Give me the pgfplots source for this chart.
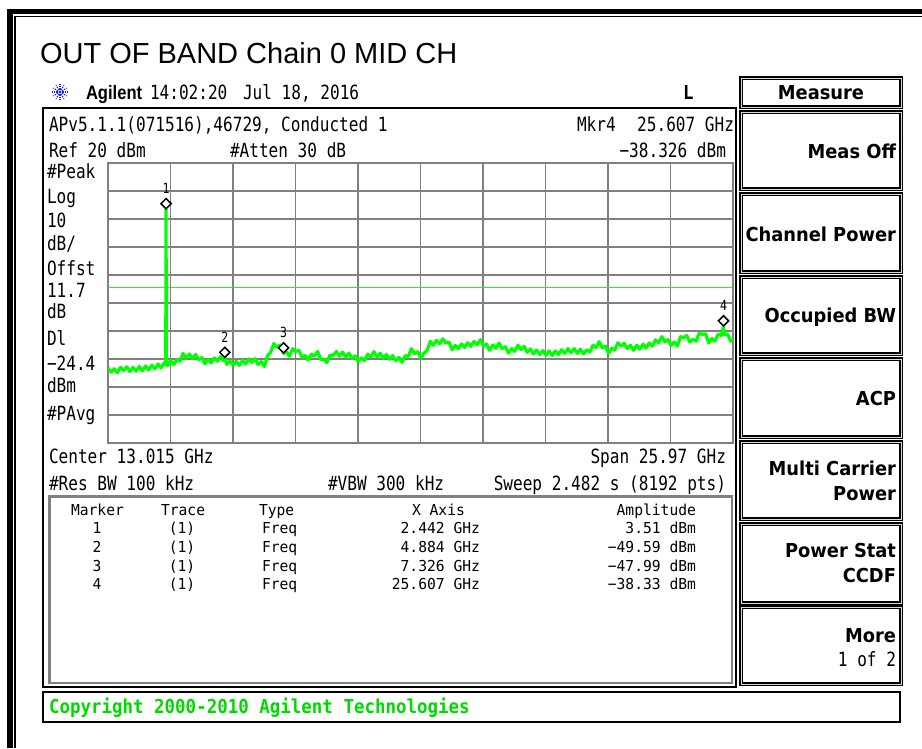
\documentclass[border=0pt]{standalone}
\usepackage{fontspec}
\usepackage{pgfplots}
\pgfplotsset{compat=1.18}
\setmainfont{Liberation Sans}
\newfontfamily\instr[FakeStretch=0.82]{DejaVu Sans Mono}
\newfontfamily\instrtab[FakeStretch=0.97]{DejaVu Sans Mono}
\newfontfamily\instrb[FakeStretch=0.91]{DejaVu Sans Mono}
\newfontfamily\softkey[FakeStretch=0.93]{DejaVu Sans}
\newfontfamily\agil[FakeStretch=0.85]{Liberation Sans}
\definecolor{trace}{RGB}{0,255,0}
\definecolor{dline}{RGB}{40,240,40}
\definecolor{gridc}{RGB}{128,128,128}
\definecolor{iconblue}{RGB}{30,30,255}
\newcommand\fA{\instr\fontsize{19.6}{20}\selectfont}
\newcommand\fT{\instrtab\fontsize{15.1}{16}\selectfont}
\newcommand\fS{\softkey\bfseries\fontsize{19.2}{20}\selectfont}
\newcommand\fB{\instrb\bfseries\fontsize{19.2}{20}\selectfont}
\newcommand\fM{\instr\fontsize{14}{14}\selectfont}
\begin{document}
\begin{tikzpicture}
\begin{scope}[x=1pt,y=-1pt,t/.style={inner sep=0pt,outer sep=0pt}]
\useasboundingbox (0,0) rectangle (922,748);
\fill[white] (0,0) rectangle (922,748);
% outer frame
\fill[black] (7,9) rectangle (922,14);
\fill[black] (7,9) rectangle (13,748);
\fill[black] (14,15.5) rectangle (922,17);
\fill[black] (14,15.5) rectangle (16,748);
% title
\node[t,anchor=base west,font=\fontsize{29}{29}\selectfont] at (40,63) {OUT OF BAND Chain 0 MID CH};
% icon
\foreach \a in {0,30,...,330}{
  \draw[iconblue,line width=1.1pt,dash pattern=on 1.3pt off 1.1pt] (60,92) -- ++(\a:8);
}
\node[t,anchor=base west,font=\agil\bfseries\fontsize{19.5}{20}\selectfont] at (86,99) {Agilent};
\node[t,anchor=base west,font=\fA] at (150,99) {14:02:20};
\node[t,anchor=base west,font=\fA] at (243,99) {Jul 18, 2016};
\node[t,anchor=base west,font=\fB] at (683,99) {L};
% main box
\draw[black,line width=2.5pt] (43,108) rectangle (736,687);
\node[t,anchor=base west,font=\fA] at (49,131) {APv5.1.1(071516),46729, Conducted 1};
\node[t,anchor=base west,font=\fA] at (577,131) {Mkr4};
\node[t,anchor=base east,font=\fA] at (734,131) {25.607 GHz};
\node[t,anchor=base west,font=\fA] at (49,157) {Ref 20 dBm};
\node[t,anchor=base west,font=\fA] at (230,157) {\#Atten 30 dB};
\node[t,anchor=base east,font=\fA] at (726,157) {−38.326 dBm};
% left labels
\node[t,anchor=base west,font=\fA] at (47,178) {\#Peak};
\node[t,anchor=base west,font=\fA] at (47,203) {Log};
\node[t,anchor=base west,font=\fA] at (47,227) {10};
\node[t,anchor=base west,font=\fA] at (47,250) {dB/};
\node[t,anchor=base west,font=\fA] at (47,275) {Offst};
\node[t,anchor=base west,font=\fA] at (47,297) {11.7};
\node[t,anchor=base west,font=\fA] at (47,318) {dB};
\node[t,anchor=base west,font=\fA] at (47,345) {Dl};
\node[t,anchor=base west,font=\fA] at (47,370) {−24.4};
\node[t,anchor=base west,font=\fA] at (47,392) {dBm};
\node[t,anchor=base west,font=\fA] at (47,420) {\#PAvg};
% below grid
\node[t,anchor=base west,font=\fA] at (49,463) {Center 13.015 GHz};
\node[t,anchor=base east,font=\fA] at (726,463) {Span 25.97 GHz};
\node[t,anchor=base west,font=\fA] at (49,490) {\#Res BW 100 kHz};
\node[t,anchor=base west,font=\fA] at (328,490) {\#VBW 300 kHz};
\node[t,anchor=base east,font=\fA] at (726,490) {Sweep 2.482 s (8192 pts)};
% marker table
\draw[gridc,line width=2.5pt] (49.5,496.5) rectangle (732,683);
\node[t,anchor=base west,font=\fT] at (71,515) {Marker};
\node[t,anchor=base west,font=\fT] at (161,515) {Trace};
\node[t,anchor=base west,font=\fT] at (259,515) {Type};
\node[t,anchor=base west,font=\fT] at (412,515) {X Axis};
\node[t,anchor=base east,font=\fT] at (696,515) {Amplitude};
\foreach \y/\n/\xv/\amp in {533/1/2.442 GHz/3.51 dBm, 552/2/4.884 GHz/−49.59 dBm, 571/3/7.326 GHz/−47.99 dBm, 589/4/25.607 GHz/−38.33 dBm}{
  \node[t,anchor=base,font=\fT] at (97,\y) {\n};
  \node[t,anchor=base,font=\fT] at (182,\y) {(1)};
  \node[t,anchor=base west,font=\fT] at (262,\y) {Freq};
  \node[t,anchor=base east,font=\fT] at (480,\y) {\xv};
  \node[t,anchor=base east,font=\fT] at (696,\y) {\amp};
}
% copyright bar
\draw[black,line width=2pt] (43,692) rectangle (900,722);
\node[t,anchor=base west,font=\fB,text=trace!85!black] at (49,713) {Copyright 2000-2010 Agilent Technologies};
% softkeys
\tikzset{sk/.style={black,line width=1.2pt,double=gray!30,double distance=0.7pt}}
\draw[sk] (741,78) rectangle (901,107);
\node[t,anchor=base,font=\fS] at (821,99) {Measure};
\draw[sk] (741,112) rectangle (901,189);
\node[t,anchor=base east,font=\fS] at (896,158) {Meas Off};
\draw[sk] (741,194) rectangle (901,272);
\node[t,anchor=base east,font=\fS] at (896,241) {Channel Power};
\draw[sk] (741,277) rectangle (901,354);
\node[t,anchor=base east,font=\fS] at (896,322) {Occupied BW};
\draw[sk] (741,359) rectangle (901,437);
\node[t,anchor=base east,font=\fS] at (896,405) {ACP};
\draw[sk] (741,442) rectangle (901,519);
\node[t,anchor=base east,font=\fS] at (896,475) {Multi Carrier};
\node[t,anchor=base east,font=\fS] at (896,500) {Power};
\draw[sk] (741,524) rectangle (901,603);
\node[t,anchor=base east,font=\fS] at (896,557) {Power Stat};
\node[t,anchor=base east,font=\fS] at (896,582) {CCDF};
\draw[sk] (741,607) rectangle (901,684);
\node[t,anchor=base east,font=\fS] at (896,642) {More};
\node[t,anchor=base east,font=\fA] at (896,666) {1 of 2};
\end{scope}
% the trace axis
\begin{axis}[at={(108pt,-163pt)}, anchor=north west, scale only axis,
  width=625pt, height=280pt,
  xmin=0.03, xmax=26, ymin=-80, ymax=20,
  xtick={0.03,2.627,5.224,7.821,10.418,13.015,15.612,18.209,20.806,23.403,26},
  ytick={-80,-70,...,20},
  xticklabels={}, yticklabels={},
  major tick length=0pt,
  grid=major, grid style={gridc,line width=1.5pt},
  axis line style={gridc,line width=2.2pt}]
\addplot[dline,line width=1.4pt] coordinates {(0.03,-24.4) (26,-24.4)};
\addplot[trace,line width=3.2pt,line join=round] coordinates {
(0.03,-53.2) (0.16,-54.7) (0.29,-53.5) (0.42,-54.9) (0.55,-53.0) (0.68,-54.1)
(0.81,-52.8) (0.94,-54.5) (1.07,-53.0) (1.20,-54.3) (1.33,-52.7) (1.46,-54.2)
(1.59,-52.5) (1.72,-53.9) (1.85,-52.2) (1.98,-53.5) (2.11,-51.8) (2.24,-53.2)
(2.37,-51.3) (2.43,-52.0) (2.442,3.51) (2.455,-51.0)
(2.50,-52.4) (2.63,-50.6) (2.76,-52.0) (2.89,-50.3) (3.02,-50.8) (3.15,-48.0)
(3.28,-49.7) (3.41,-48.2) (3.54,-49.9) (3.67,-48.4) (3.80,-50.3) (3.93,-49.5)
(4.06,-51.7) (4.19,-50.2) (4.32,-51.4) (4.45,-49.6) (4.58,-50.8) (4.71,-49.1)
(4.84,-50.7) (4.884,-49.59) (4.97,-51.9) (5.10,-50.7) (5.23,-52.2) (5.36,-50.8)
(5.49,-52.3) (5.62,-50.5) (5.75,-51.8) (5.88,-50.0) (6.01,-51.2) (6.14,-49.9)
(6.27,-52.0) (6.40,-50.9) (6.53,-52.7) (6.66,-48.8) (6.79,-47.6) (6.92,-44.5)
(7.05,-45.8) (7.18,-45.0) (7.326,-47.99) (7.44,-47.4) (7.57,-49.0) (7.70,-46.3)
(7.83,-47.3) (7.96,-46.9) (8.09,-49.4) (8.22,-48.7) (8.35,-50.4) (8.48,-48.3)
(8.61,-49.0) (8.74,-47.3) (8.87,-50.2) (9.00,-50.0) (9.13,-51.3) (9.26,-48.5)
(9.39,-48.8) (9.52,-47.3) (9.65,-49.0) (9.78,-47.6) (9.91,-49.2) (10.04,-47.9)
(10.17,-49.8) (10.30,-48.9) (10.43,-50.9) (10.56,-49.6) (10.69,-50.6) (10.82,-48.3)
(10.95,-49.2) (11.08,-47.4) (11.21,-49.3) (11.34,-48.0) (11.47,-49.7) (11.60,-48.4)
(11.73,-50.1) (11.86,-48.8) (11.99,-50.6) (12.12,-49.4) (12.25,-51.2) (12.38,-48.8)
(12.51,-49.1) (12.64,-46.3) (12.77,-48.1) (12.90,-47.4) (13.03,-49.7) (13.16,-47.9)
(13.29,-47.0) (13.42,-43.7) (13.55,-45.1) (13.68,-43.3) (13.81,-44.6) (13.94,-42.8)
(14.07,-44.3) (14.20,-44.0) (14.33,-46.7) (14.46,-45.1) (14.59,-46.3) (14.72,-44.6)
(14.85,-45.9) (14.98,-44.2) (15.11,-45.5) (15.24,-43.7) (15.37,-44.9) (15.50,-43.1)
(15.63,-45.4) (15.76,-44.7) (15.89,-46.9) (16.02,-45.0) (16.15,-46.2) (16.28,-44.3)
(16.41,-46.3) (16.54,-45.6) (16.67,-47.9) (16.80,-46.3) (16.93,-47.3) (17.06,-45.1)
(17.19,-46.6) (17.32,-45.5) (17.45,-47.6) (17.58,-46.4) (17.71,-48.2) (17.84,-46.8)
(17.97,-48.4) (18.10,-47.0) (18.23,-48.6) (18.36,-47.1) (18.49,-48.8) (18.62,-47.1)
(18.75,-48.4) (18.88,-46.7) (19.01,-48.0) (19.14,-46.3) (19.27,-47.8) (19.40,-46.3)
(19.53,-48.0) (19.66,-46.5) (19.79,-48.2) (19.92,-46.7) (20.05,-47.5) (20.18,-45.1)
(20.31,-45.9) (20.44,-43.8) (20.57,-46.0) (20.70,-45.4) (20.83,-48.0) (20.96,-46.1)
(21.09,-46.8) (21.22,-44.2) (21.35,-45.4) (21.48,-44.4) (21.61,-46.3) (21.74,-45.1)
(21.87,-46.9) (22.00,-45.1) (22.13,-46.5) (22.26,-44.7) (22.39,-46.1) (22.52,-44.3)
(22.65,-45.4) (22.78,-43.2) (22.91,-44.2) (23.04,-42.0) (23.17,-43.9) (23.30,-43.1)
(23.43,-45.2) (23.56,-44.0) (23.69,-45.4) (23.82,-42.0) (23.95,-42.4) (24.08,-41.6)
(24.21,-44.0) (24.34,-43.0) (24.47,-43.6) (24.60,-40.7) (24.73,-41.2) (24.86,-41.0)
(24.99,-44.3) (25.12,-42.7) (25.25,-43.6) (25.38,-41.2) (25.51,-41.6) (25.607,-38.33)
(25.64,-41.3) (25.77,-41.0) (25.90,-43.6) (26.00,-43.2)
};
\addplot[only marks,mark=square*,mark size=3.6pt,
  mark options={yshift=5.5pt,rotate=45,fill=white,draw=black,line width=1.5pt}]
  coordinates {(2.442,3.51) (4.884,-49.59) (7.326,-47.99) (25.607,-38.33)};
\node[font=\fM,yshift=21pt] at (axis cs:2.442,3.51) {1};
\node[font=\fM,yshift=21pt] at (axis cs:4.884,-49.59) {2};
\node[font=\fM,yshift=21pt] at (axis cs:7.326,-47.99) {3};
\node[font=\fM,yshift=21pt] at (axis cs:25.607,-38.33) {4};
\end{axis}
\end{tikzpicture}
\end{document}
